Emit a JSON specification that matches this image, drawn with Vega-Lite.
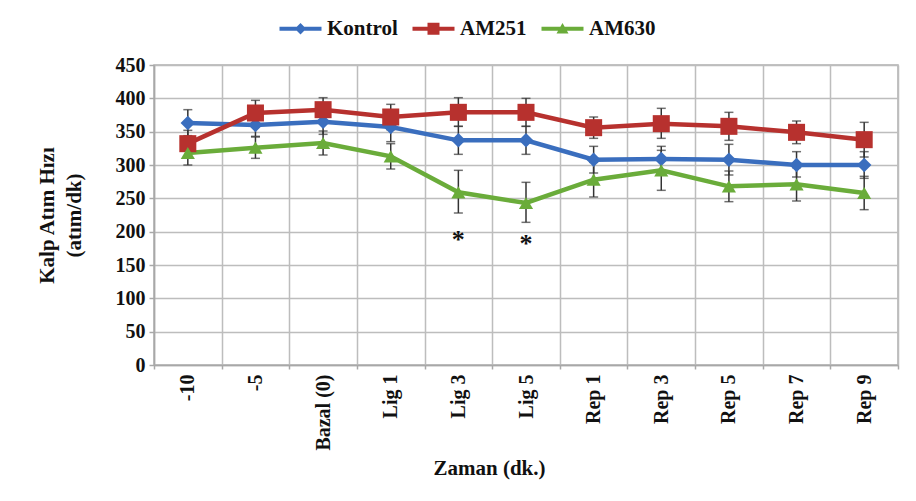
{
  "$schema": "https://vega.github.io/schema/vega-lite/v6.json",
  "autosize": {"type": "none"},
  "width": 744,
  "height": 300,
  "padding": {"left": 154, "top": 65, "right": 18, "bottom": 136},
  "background": "white",
  "config": {
    "font": "Liberation Serif",
    "view": {"stroke": "#b0b0b0", "strokeWidth": 1.5},
    "axis": {
      "labelFont": "Liberation Serif",
      "labelFontWeight": "bold",
      "labelFontSize": 20,
      "labelColor": "#111",
      "titleFont": "Liberation Serif",
      "titleFontWeight": "bold",
      "titleFontSize": 21,
      "titleColor": "#111",
      "gridColor": "#bdbdbd",
      "gridWidth": 1.5,
      "domainColor": "#a8a8a8",
      "domainWidth": 1.5,
      "tickColor": "#a8a8a8",
      "tickWidth": 1.5,
      "labelOverlap": false
    }
  },
  "datasets": {
    "series": [
      {"t": "-10", "g": "Kontrol", "v": 363, "lo": 344, "hi": 383},
      {"t": "-5", "g": "Kontrol", "v": 360, "lo": 343, "hi": 376},
      {"t": "Bazal (0)", "g": "Kontrol", "v": 365, "lo": 346, "hi": 384},
      {"t": "Lig 1", "g": "Kontrol", "v": 357, "lo": 335, "hi": 379},
      {"t": "Lig 3", "g": "Kontrol", "v": 337, "lo": 316, "hi": 358},
      {"t": "Lig 5", "g": "Kontrol", "v": 337, "lo": 316, "hi": 358},
      {"t": "Rep 1", "g": "Kontrol", "v": 308, "lo": 288, "hi": 328},
      {"t": "Rep 3", "g": "Kontrol", "v": 309, "lo": 290, "hi": 328},
      {"t": "Rep 5", "g": "Kontrol", "v": 308, "lo": 285, "hi": 331},
      {"t": "Rep 7", "g": "Kontrol", "v": 300, "lo": 282, "hi": 320},
      {"t": "Rep 9", "g": "Kontrol", "v": 300, "lo": 280, "hi": 320},
      {"t": "-10", "g": "AM251", "v": 332, "lo": 312, "hi": 352},
      {"t": "-5", "g": "AM251", "v": 378, "lo": 359, "hi": 397},
      {"t": "Bazal (0)", "g": "AM251", "v": 383, "lo": 366, "hi": 401},
      {"t": "Lig 1", "g": "AM251", "v": 372, "lo": 353, "hi": 391},
      {"t": "Lig 3", "g": "AM251", "v": 379, "lo": 358, "hi": 401},
      {"t": "Lig 5", "g": "AM251", "v": 379, "lo": 358, "hi": 400},
      {"t": "Rep 1", "g": "AM251", "v": 356, "lo": 340, "hi": 372},
      {"t": "Rep 3", "g": "AM251", "v": 362, "lo": 340, "hi": 385},
      {"t": "Rep 5", "g": "AM251", "v": 358, "lo": 337, "hi": 379},
      {"t": "Rep 7", "g": "AM251", "v": 349, "lo": 332, "hi": 366},
      {"t": "Rep 9", "g": "AM251", "v": 338, "lo": 312, "hi": 364},
      {"t": "-10", "g": "AM630", "v": 318, "lo": 300, "hi": 336},
      {"t": "-5", "g": "AM630", "v": 326, "lo": 310, "hi": 342},
      {"t": "Bazal (0)", "g": "AM630", "v": 333, "lo": 315, "hi": 351},
      {"t": "Lig 1", "g": "AM630", "v": 313, "lo": 294, "hi": 332},
      {"t": "Lig 3", "g": "AM630", "v": 259, "lo": 228, "hi": 292},
      {"t": "Lig 5", "g": "AM630", "v": 243, "lo": 214, "hi": 274},
      {"t": "Rep 1", "g": "AM630", "v": 278, "lo": 252, "hi": 304},
      {"t": "Rep 3", "g": "AM630", "v": 292, "lo": 262, "hi": 322},
      {"t": "Rep 5", "g": "AM630", "v": 268, "lo": 245, "hi": 291},
      {"t": "Rep 7", "g": "AM630", "v": 271, "lo": 246, "hi": 296},
      {"t": "Rep 9", "g": "AM630", "v": 258, "lo": 233, "hi": 283}
    ],
    "stars": [
      {"t": "Lig 3", "v": 193, "s": "*"},
      {"t": "Lig 5", "v": 187, "s": "*"}
    ]
  },
  "encoding": {
    "x": {
      "field": "t",
      "type": "nominal",
      "sort": ["-10", "-5", "Bazal (0)", "Lig 1", "Lig 3", "Lig 5", "Rep 1", "Rep 3", "Rep 5", "Rep 7", "Rep 9"],
      "scale": {"paddingInner": 0, "paddingOuter": 0},
      "axis": {
        "title": "Zaman (dk.)",
        "labelAngle": -90,
        "labelAlign": "right",
        "labelBaseline": "middle",
        "labelPadding": 5,
        "tickBand": "extent",
        "tickSize": 4,
        "grid": true,
        "titleX": 335,
        "titleY": 103,
        "titleBaseline": "middle",
        "titleAlign": "center"
      }
    },
    "y": {
      "field": "v",
      "type": "quantitative",
      "scale": {"domain": [0, 450], "nice": false, "zero": true},
      "axis": {
        "title": ["Kalp Atım Hızı", "(atım/dk)"],
        "titleLineHeight": 27,
        "titlePadding": 31,
        "values": [0, 50, 100, 150, 200, 250, 300, 350, 400, 450],
        "tickSize": 5,
        "labelPadding": 4,
        "labelOverlap": false,
        "grid": true
      }
    }
  },
  "layer": [
    {
      "data": {"name": "series"},
      "mark": {"type": "rule", "color": "#333333", "strokeWidth": 1.5},
      "encoding": {
        "y": {"field": "lo", "type": "quantitative", "title": ["Kalp Atım Hızı", "(atım/dk)"]},
        "y2": {"field": "hi"},
        "detail": {"field": "g"}
      }
    },
    {
      "data": {"name": "series"},
      "mark": {"type": "tick", "color": "#333333", "thickness": 1.5, "size": 9, "orient": "horizontal"},
      "encoding": {
        "y": {"field": "lo", "type": "quantitative", "title": ["Kalp Atım Hızı", "(atım/dk)"]},
        "detail": {"field": "g"}
      }
    },
    {
      "data": {"name": "series"},
      "mark": {"type": "tick", "color": "#333333", "thickness": 1.5, "size": 9, "orient": "horizontal"},
      "encoding": {
        "y": {"field": "hi", "type": "quantitative", "title": ["Kalp Atım Hızı", "(atım/dk)"]},
        "detail": {"field": "g"}
      }
    },
    {
      "data": {"name": "series"},
      "mark": {"type": "line", "strokeWidth": 4.5},
      "encoding": {
        "color": {
          "field": "g",
          "type": "nominal",
          "scale": {"domain": ["Kontrol", "AM251", "AM630"], "range": ["#3a6ebe", "#b7312e", "#6aac3a"]},
          "legend": {
            "title": null,
            "orient": "none",
            "direction": "horizontal",
            "legendX": 136,
            "legendY": -47,
            "padding": 0,
            "labelFont": "Liberation Serif",
            "labelFontWeight": "bold",
            "labelFontSize": 21,
            "labelColor": "#111",
            "symbolSize": 144,
            "labelOffset": 16,
            "columnPadding": 14,
            "encode": {
              "symbols": {
                "update": {
                  "shape": {"signal": "datum.value === 'Kontrol' ? 'M-3.5,-0.33H3.5V0.33H-3.5Z M-0.95,0L0,-0.95L0.95,0L0,0.95Z' : datum.value === 'AM251' ? 'M-3.5,-0.33H3.5V0.33H-3.5Z M-1,-1H1V1H-1Z' : 'M-3.5,-0.33H3.5V0.33H-3.5Z M-1,0.8L0,-0.95L1,0.8Z'"},
                  "fill": {"scale": "color", "field": "value"},
                  "stroke": {"value": "transparent"},
                  "strokeWidth": {"value": 0},
                  "opacity": {"value": 1}
                }
              }
            }
          }
        }
      }
    },
    {
      "data": {"name": "series"},
      "transform": [{"filter": "datum.g === 'Kontrol'"}],
      "mark": {"type": "point", "filled": true, "opacity": 1, "shape": "diamond", "size": 210, "color": "#3a6ebe"}
    },
    {
      "data": {"name": "series"},
      "transform": [{"filter": "datum.g === 'AM251'"}],
      "mark": {"type": "point", "filled": true, "opacity": 1, "shape": "square", "size": 290, "color": "#b7312e"}
    },
    {
      "data": {"name": "series"},
      "transform": [{"filter": "datum.g === 'AM630'"}],
      "mark": {"type": "point", "filled": true, "opacity": 1, "shape": "triangle-up", "size": 200, "color": "#6aac3a"}
    },
    {
      "data": {"name": "stars"},
      "mark": {"type": "text", "fontSize": 26, "fontWeight": "bold", "font": "Liberation Serif", "color": "#111", "baseline": "alphabetic", "dy": 12},
      "encoding": {
        "text": {"field": "s"}
      }
    }
  ]
}
